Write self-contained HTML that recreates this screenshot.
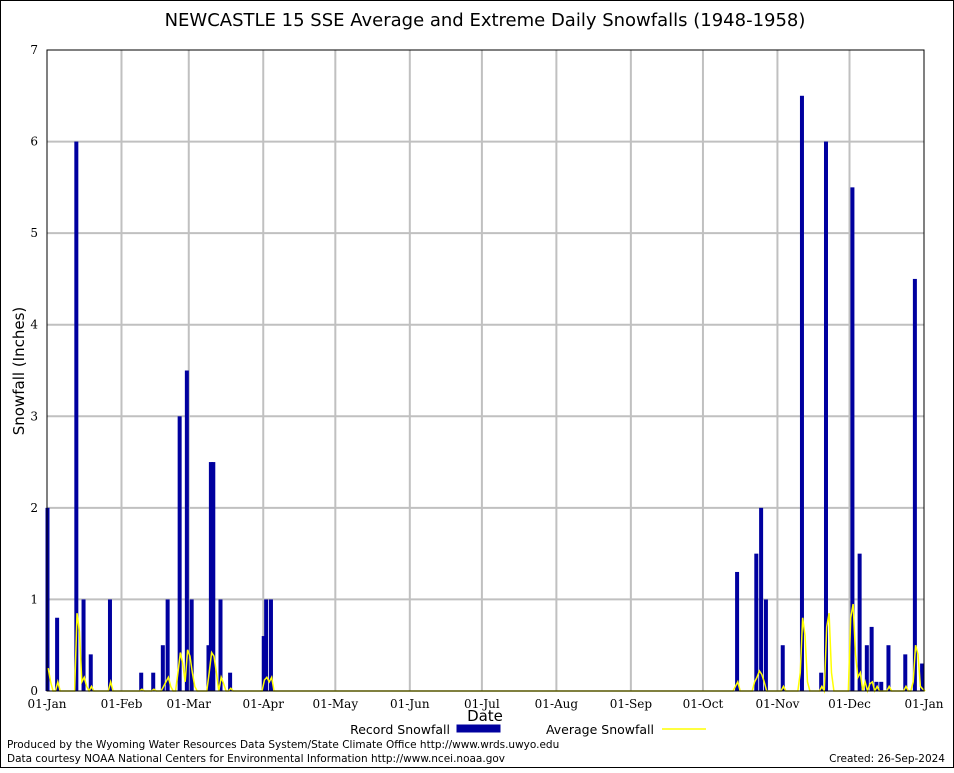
<!DOCTYPE html>
<html><head><meta charset="utf-8"><style>
body{margin:0;background:#fff;}
svg text{font-family:"DejaVu Sans","Liberation Sans",sans-serif;}
svg text.tick{font-family:"DejaVu Serif","Liberation Serif",serif;}
</style></head><body>
<svg id="chart" width="954" height="768" xmlns="http://www.w3.org/2000/svg">
<rect x="0.5" y="0.5" width="953" height="767" fill="#fff" stroke="#000"/>
<text x="485" y="26" font-size="18" text-anchor="middle">NEWCASTLE 15 SSE Average and Extreme Daily Snowfalls (1948-1958)</text>
<g id="grid"></g>
<g id="bars"></g>
<g id="avg"></g>
<g id="axes"></g>
<text x="24" y="371" font-size="15" text-anchor="middle" transform="rotate(-90 24 371)">Snowfall (Inches)</text>
<text x="485" y="721" font-size="15" text-anchor="middle">Date</text>
<g>
<text x="450" y="734" font-size="12.5" text-anchor="end">Record Snowfall</text>
<rect x="457" y="725" width="43" height="7" fill="#00009f" stroke="#00009f"/>
<text x="654" y="734" font-size="12.5" text-anchor="end">Average Snowfall</text>
<line x1="662" y1="729" x2="706" y2="729" stroke="#ffff00" stroke-width="1.5"/>
</g>
<text x="7" y="748" font-size="10.5">Produced by the Wyoming Water Resources Data System/State Climate Office http://www.wrds.uwyo.edu</text>
<text x="7" y="762" font-size="10.5">Data courtesy NOAA National Centers for Environmental Information http://www.ncei.noaa.gov</text>
<text x="945" y="762" font-size="10.5" text-anchor="end">Created:  26-Sep-2024</text>
</svg>
<script>
const monthLabels=["01-Jan","01-Feb","01-Mar","01-Apr","01-May","01-Jun","01-Jul","01-Aug","01-Sep","01-Oct","01-Nov","01-Dec","01-Jan"];
const monthStartDays=[0,31,59,90,120,151,181,212,243,273,304,334,365];
const yTicks=[0,1,2,3,4,5,6,7];
const recordDays=[0,4,12,15,18,26,39,44,48,50,55,58,60,67,68,69,72,76,90,91,93,287,295,297,299,306,314,322,324,335,338,341,343,345,347,350,357,361,364];
const recordValues=[2.0,0.8,6.0,1.0,0.4,1.0,0.2,0.2,0.5,1.0,3.0,3.5,1.0,0.5,2.5,2.5,1.0,0.2,0.6,1.0,1.0,1.3,1.5,2.0,1.0,0.5,6.5,0.2,6.0,5.5,1.5,0.5,0.7,0.1,0.1,0.5,0.4,4.5,0.3];
const avgDays=[0,1,4,12,13,14,15,16,18,26,39,44,48,49,50,51,54,55,56,57,58,59,60,61,67,68,69,70,72,73,76,90,91,92,93,286,287,294,295,296,297,298,306,313,314,315,316,322,324,325,326,334,335,336,337,338,340,342,343,345,350,357,360,361,362,363,364];
const avgValues=[0.25,0.1,0.1,0.85,0.65,0.1,0.15,0.05,0.05,0.1,0.02,0.02,0.05,0.1,0.15,0.05,0.2,0.42,0.3,0.1,0.45,0.38,0.2,0.05,0.2,0.42,0.38,0.2,0.15,0.08,0.03,0.12,0.15,0.1,0.15,0.05,0.1,0.1,0.15,0.22,0.18,0.1,0.05,0.2,0.8,0.6,0.1,0.05,0.7,0.85,0.2,0.8,0.95,0.4,0.15,0.2,0.1,0.08,0.1,0.05,0.05,0.05,0.1,0.5,0.4,0.05,0.02];
const X0=47,X1=924,Y0=691,Y1=50;
function xs(d){return X0+d*(X1-X0)/365;}
function ys(v){return Y0-v*(Y0-Y1)/7;}
const NS="http://www.w3.org/2000/svg";
function mk(tag,attrs,parent){const e=document.createElementNS(NS,tag);for(const k in attrs)e.setAttribute(k,attrs[k]);parent.appendChild(e);return e;}
const grid=document.getElementById('grid'),bars=document.getElementById('bars'),avg=document.getElementById('avg'),axes=document.getElementById('axes');
monthStartDays.forEach((d,i)=>{
  if(i>0&&i<12){const l=mk('line',{x1:xs(d),x2:xs(d),y1:Y1,y2:Y0,stroke:'#c0c0c0','stroke-width':2},grid);
  
  }
  const t=mk('text',{x:xs(d),y:708,'font-size':12,'text-anchor':'middle','class':'tick'},axes);t.textContent=monthLabels[i];
  
  
});
yTicks.forEach(v=>{
  if(v>0&&v<7){const l=mk('line',{x1:X0,x2:X1,y1:ys(v),y2:ys(v),stroke:'#c0c0c0','stroke-width':2},grid);
  
  }
  const t=mk('text',{x:38,y:ys(v)+4,'font-size':12,'text-anchor':'end','class':'tick'},axes);t.textContent=v;
  
  
});
recordDays.forEach((d,i)=>{
  const y=ys(recordValues[i]);
  const r=mk('rect',{x:xs(d)-1.5,y:y,width:4,height:Y0-y,fill:'#00009f'},bars);
  
  
});
const full=new Array(366).fill(0);
avgDays.forEach((d,i)=>{full[d]=avgValues[i];});
let pts=[];for(let d=0;d<=365;d++)pts.push(xs(d+0.5)+','+ys(full[d]));
const pl=mk('polyline',{points:pts.join(' '),fill:'none',stroke:'#ffff00','stroke-width':1.5},avg);


const fr=mk('rect',{x:X0,y:Y1,width:X1-X0,height:Y0-Y1,fill:'none',stroke:'#000','stroke-width':1},axes);


</script>
</body></html>
